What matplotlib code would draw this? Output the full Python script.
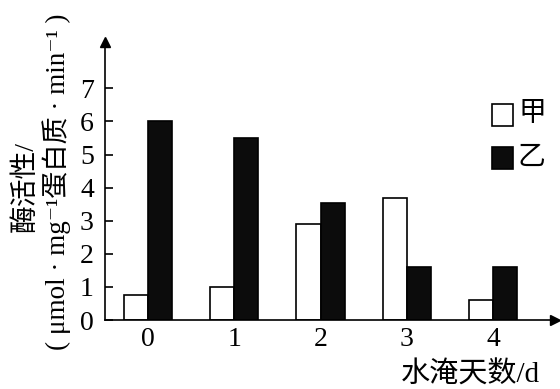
import matplotlib
matplotlib.use("Agg")
import matplotlib.pyplot as plt
from matplotlib.patches import Rectangle
import numpy as np

days = ["0", "1", "2", "3", "4"]
jia = [0.75, 1.0, 2.9, 3.7, 0.6]
yi = [6.0, 5.5, 3.55, 1.6, 1.6]
yticks = [0, 1, 2, 3, 4, 5, 6, 7]
series_names = ["甲", "乙"]
colors = ["white", "#0c0c0c"]

FAM = ["Liberation Serif", "Noto Sans CJK SC", "DejaVu Serif"]
plt.rcParams["font.family"] = FAM

W, H = 560, 389
fig = plt.figure(figsize=(W / 100, H / 100), dpi=100)
x0, y0, x1, y1 = 105, 320, 555, 42
ax = fig.add_axes([x0 / W, (H - y0) / H, (x1 - x0) / W, (y0 - y1) / H])

x = np.arange(len(days))
bw = 0.28
ax.bar(x - bw / 2, jia, bw, facecolor=colors[0], edgecolor="black", linewidth=1.2)
ax.bar(x + bw / 2, yi, bw, facecolor=colors[1], edgecolor="black", linewidth=1.2)

ax.set_xlim(-0.5, 4.72)
ax.set_ylim(0, 8.4)
for s in ["top", "right"]:
    ax.spines[s].set_visible(False)
for s in ["left", "bottom"]:
    ax.spines[s].set_linewidth(1.2)
ax.plot(1, 0, ">k", transform=ax.transAxes, clip_on=False, markersize=7)
ax.plot(0, 1, "^k", transform=ax.transAxes, clip_on=False, markersize=7)

ax.set_yticks(yticks)
ax.set_yticklabels([str(v) for v in yticks])
ax.set_xticks(x)
ax.set_xticklabels(days)
ax.tick_params(axis="y", direction="in", length=6, width=1.2, pad=8, labelsize=20)
ax.tick_params(axis="x", length=0, pad=5, labelsize=20)

fig.text(26 / W, 1 - 187 / H, "酶活性/", rotation=90, ha="center", va="center",
         fontsize=20, family=FAM)
fig.text(57 / W, 1 - 182 / H, "( μmol · mg⁻¹蛋白质 · min⁻¹ )", rotation=90,
         ha="center", va="center", fontsize=19.5, family=FAM)
fig.text(540 / W, 1 - 375 / H, "水淹天数/d", ha="right", va="center",
         fontsize=21, family=FAM)

# legend drawn manually
leg_y = [115, 158]
for name, c, yc in zip(series_names, colors, leg_y):
    fig.add_artist(Rectangle((492 / W, 1 - (yc + 11) / H), 21 / W, 22 / H,
                             facecolor=c, edgecolor="black", linewidth=1.2,
                             transform=fig.transFigure))
    fig.text(518 / W, 1 - yc / H, name, ha="left", va="center", fontsize=20, family=FAM)

fig.savefig("out.png", dpi=100)
